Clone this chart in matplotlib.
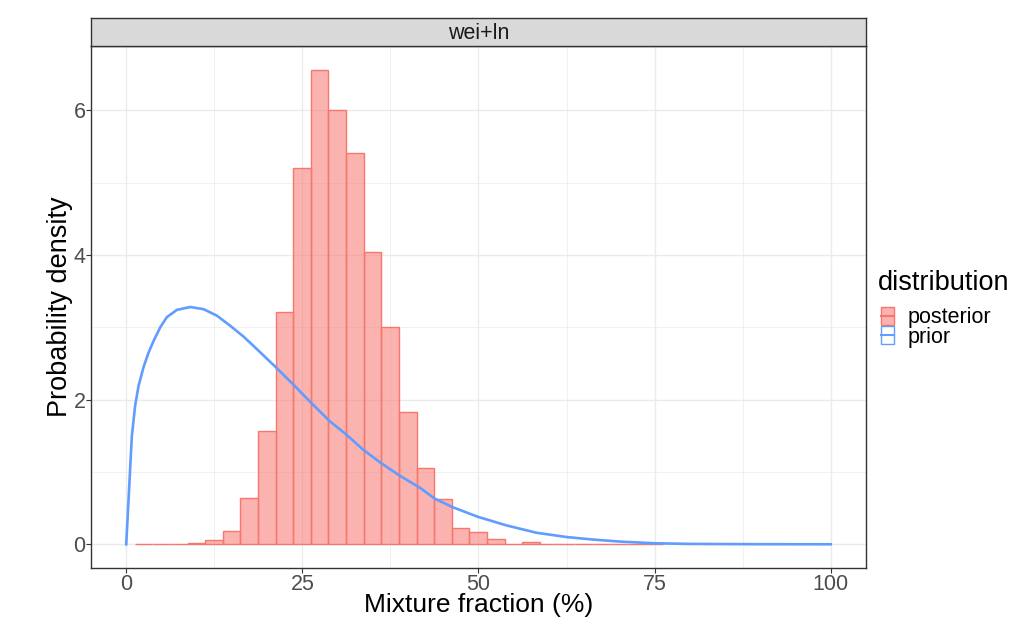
import numpy as np
import matplotlib
matplotlib.use("Agg")
import matplotlib.pyplot as plt
from matplotlib.patches import Rectangle
from matplotlib.lines import Line2D

plt.rcParams['font.family'] = ['Liberation Sans', 'DejaVu Sans']

# Histogram (posterior) bins: left edge of first bin, bin width, densities
bin_start = 1.2
bin_width = 2.5
posterior_density = [0.0, 0.0, 0.0, 0.015, 0.06, 0.19, 0.64, 1.56, 3.21, 5.20,
                     6.56, 6.01, 5.41, 4.04, 3.00, 1.83, 1.06, 0.63, 0.23, 0.175,
                     0.073, 0.0, 0.03, 0.0, 0.0, 0.0, 0.0, 0.0, 0.0, 0.0]

# Prior curve
prior_x = [0, 0.80, 1.27, 1.75, 2.46, 3.17, 3.88, 4.83, 5.77, 7.19, 9.09, 10.98,
           12.87, 14.77, 16.66, 17.98, 21.1, 23.7, 26.3, 28.9, 31.2, 33.6, 36.2,
           38.8, 41.7, 43.8, 46.4, 49.9, 54.0, 58.2, 62.5, 66.3, 70.1, 75.0, 80.0,
           90.0, 100.0]
prior_y = [0, 1.50, 1.92, 2.19, 2.45, 2.65, 2.81, 3.00, 3.14, 3.24, 3.28, 3.25,
           3.16, 3.02, 2.87, 2.75, 2.46, 2.21, 1.95, 1.70, 1.52, 1.31, 1.12,
           0.95, 0.78, 0.63, 0.51, 0.38, 0.26, 0.16, 0.10, 0.065, 0.037, 0.014,
           0.005, 0.001, 0.0]

x_ticks = [0, 25, 50, 75, 100]
y_ticks = [0, 2, 4, 6]
panel_title = "wei+ln"
x_label = "Mixture fraction (%)"
y_label = "Probability density"
legend_title = "distribution"
legend_labels = ["posterior", "prior"]

red = "#F8766D"
blue = "#619CFF"
red_fill = (0.973, 0.463, 0.427, 0.55)

fig = plt.figure(figsize=(10.15, 6.17), dpi=100)
W, H = 1015, 617
left, right, top, bottom = 91, 866, 46, 568


def fx(px):
    return px / W


def fy(py):
    return 1 - py / H


ax = fig.add_axes([left / W, 1 - bottom / H, (right - left) / W, (bottom - top) / H])

lefts = bin_start + bin_width * np.arange(len(posterior_density))
ax.bar(lefts, posterior_density, width=bin_width, align="edge",
       facecolor=red_fill, edgecolor=red, linewidth=1.0, zorder=3)
ax.plot(prior_x, prior_y, color=blue, linewidth=1.9, zorder=4,
        solid_joinstyle="round")

ax.set_xlim(-5, 105)
ax.set_ylim(-0.328, 6.888)
ax.set_xticks(x_ticks)
ax.set_yticks(y_ticks)
ax.set_xticks([12.5, 37.5, 62.5, 87.5], minor=True)
ax.set_yticks([1, 3, 5], minor=True)
ax.grid(which="major", color="#EBEBEB", linewidth=1.0, zorder=0)
ax.grid(which="minor", color="#EBEBEB", linewidth=0.5, zorder=0)
ax.set_axisbelow(True)
ax.tick_params(which="minor", length=0)
ax.tick_params(which="major", length=3.5, color="#333333", width=0.8,
               labelsize=15.5, labelcolor="#4D4D4D", pad=0.5)
for s in ax.spines.values():
    s.set_color("#333333")
    s.set_linewidth(1.0)

fig.text(fx(478.5), fy(605), x_label, ha="center", va="center", fontsize=19,
         color="black")
fig.text(fx(60), fy(307), y_label, ha="center", va="center", fontsize=19.5,
         color="black", rotation=90)

# strip
sax = fig.add_axes([left / W, 1 - top / H, (right - left) / W, (top - 18) / H])
sax.set_facecolor("#D9D9D9")
sax.set_xticks([]); sax.set_yticks([])
for s in sax.spines.values():
    s.set_color("#333333")
    s.set_linewidth(1.0)
sax.text(0.5, 0.45, panel_title, ha="center", va="center", fontsize=15.5,
         color="#1A1A1A", transform=sax.transAxes)

# legend (drawn manually in figure pixel coordinates)
fig.text(fx(878), fy(283), legend_title, ha="left", va="center", fontsize=19.5,
         color="black")
key_styles = [(red_fill, red), ("white", blue)]
key_tops = [307, 326]
for (fc, ec), ktop, lab in zip(key_styles, key_tops, legend_labels):
    fig.patches.append(Rectangle((fx(880.5), fy(ktop + 18)), 13 / W, 18 / H,
                                 transform=fig.transFigure, facecolor=fc,
                                 edgecolor=ec, linewidth=1.0))
    fig.lines.append(Line2D([fx(880.5), fx(893.5)], [fy(ktop + 9), fy(ktop + 9)],
                            transform=fig.transFigure, color=ec, linewidth=1.5))
    fig.text(fx(908), fy(ktop + 11), lab, ha="left", va="center", fontsize=15.5,
             color="black")

fig.savefig("out.png", dpi=100)
